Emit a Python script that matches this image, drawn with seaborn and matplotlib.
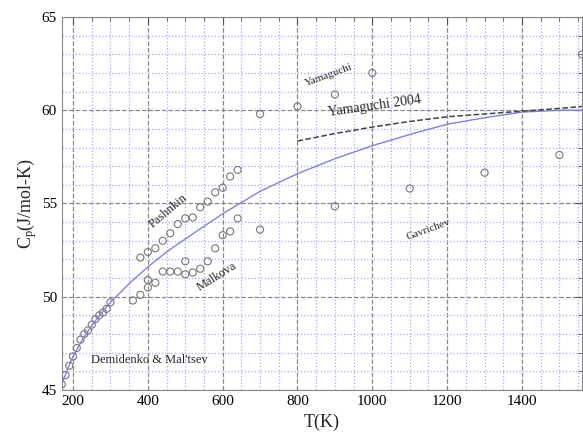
import numpy as np
import pandas as pd
import seaborn as sns
import matplotlib.pyplot as plt
from matplotlib.ticker import MultipleLocator

# Demidenko & Mal'tsev
t_dem = [170, 180, 190, 200, 210, 220, 230, 240, 250, 260, 270, 280, 290, 300]
cp_dem = [45.3, 45.8, 46.3, 46.8, 47.25, 47.7, 48.0, 48.2, 48.5, 48.8, 49.0, 49.15, 49.35, 49.7]

# Pashnkin (upper branch)
t_pas = [380, 400, 420, 440, 460, 480, 500, 520, 540, 560, 580, 600, 620, 640]
cp_pas = [52.1, 52.4, 52.6, 53.0, 53.4, 53.9, 54.2, 54.25, 54.8, 55.1, 55.6, 55.85, 56.45, 56.8]

# Malkova (lower branch)
t_mal = [360, 380, 400, 400, 420, 440, 460, 480, 500, 500, 520, 540, 560, 580, 600, 620, 640, 700]
cp_mal = [49.8, 50.1, 50.5, 50.9, 50.75, 51.35, 51.35, 51.35, 51.9, 51.2, 51.3, 51.5, 51.9, 52.6, 53.3, 53.5, 54.2, 53.6]

# Yamaguchi
t_yam = [700, 800, 900, 1000, 1560]
cp_yam = [59.8, 60.2, 60.85, 62.0, 63.0]

# Gavrichev
t_gav = [900, 1100, 1300, 1500]
cp_gav = [54.85, 55.8, 56.65, 57.6]

# assessed curve
t_fit = [170, 185, 200, 225, 250, 275, 300, 350, 400, 450, 500, 600, 700, 800,
         900, 1000, 1100, 1200, 1300, 1400, 1500, 1560]
cp_fit = [45.3, 46.1, 46.8, 47.7, 48.45, 49.1, 49.7, 50.7, 51.6, 52.4, 53.1, 54.45, 55.65, 56.6,
          57.4, 58.1, 58.7, 59.25, 59.6, 59.9, 60.0, 60.0]

# Yamaguchi 2004
t_y04 = [800, 900, 1000, 1100, 1200, 1300, 1400, 1500, 1560]
cp_y04 = [58.35, 58.75, 59.1, 59.4, 59.65, 59.8, 59.95, 60.1, 60.2]

pts = pd.DataFrame({
    "T": t_dem + t_pas + t_mal + t_yam + t_gav,
    "Cp": cp_dem + cp_pas + cp_mal + cp_yam + cp_gav,
})

sns.set_style("white")
plt.rcParams['font.family'] = ['Liberation Serif', 'DejaVu Serif']
plt.rcParams['mathtext.fontset'] = 'custom'
plt.rcParams['mathtext.rm'] = 'Liberation Serif'
plt.rcParams['mathtext.it'] = 'Liberation Serif'

fig = plt.figure(figsize=(5.83, 4.37), dpi=100)
ax = fig.add_axes([0.106, 0.1076, 0.892, 0.8535])

ax.xaxis.set_major_locator(MultipleLocator(200))
ax.xaxis.set_minor_locator(MultipleLocator(50))
ax.yaxis.set_major_locator(MultipleLocator(5))
ax.yaxis.set_minor_locator(MultipleLocator(1))
ax.grid(which='minor', color='#a8a8ff', linestyle=':', linewidth=0.9)
ax.grid(which='major', color='#888888', linestyle='--', linewidth=0.9)
ax.set_axisbelow(True)

sns.lineplot(x=t_fit, y=cp_fit, ax=ax, color='#8080e0', linewidth=1.0)
sns.lineplot(x=t_y04, y=cp_y04, ax=ax, color='#444444', linewidth=1.1, linestyle='--')
sns.scatterplot(data=pts, x="T", y="Cp", ax=ax, marker='o', s=26,
                facecolors='none', edgecolor='#777777', linewidth=0.8, clip_on=True)

ax.set_xlim(170, 1560)
ax.set_ylim(45, 65)
ax.tick_params(which='both', direction='in', top=True, right=True, colors='#555555',
               labelcolor='black', labelsize=11)
ax.tick_params(which='major', length=5)
ax.tick_params(which='minor', length=3)
for s in ax.spines.values():
    s.set_color('#888888')

ax.set_xlabel("T(K)", fontsize=13)
ax.set_ylabel("C$_\\mathrm{p}$(J/mol-K)", fontsize=13, labelpad=2)

ax.text(885, 61.9, "Yamaguchi", fontsize=8, rotation=20, ha='center', va='center')
ax.text(1005, 60.2, "Yamaguchi 2004", fontsize=10, rotation=8, ha='center', va='center')
ax.text(455, 54.6, "Pashnkin", fontsize=9, rotation=40, ha='center', va='center')
ax.text(585, 51.1, "Malkova", fontsize=9, rotation=32, ha='center', va='center')
ax.text(1150, 53.6, "Gavrichev", fontsize=8, rotation=20, ha='center', va='center')
ax.text(405, 46.6, "Demidenko & Mal'tsev", fontsize=9, ha='center', va='center')

fig.savefig("out.png", dpi=100)
